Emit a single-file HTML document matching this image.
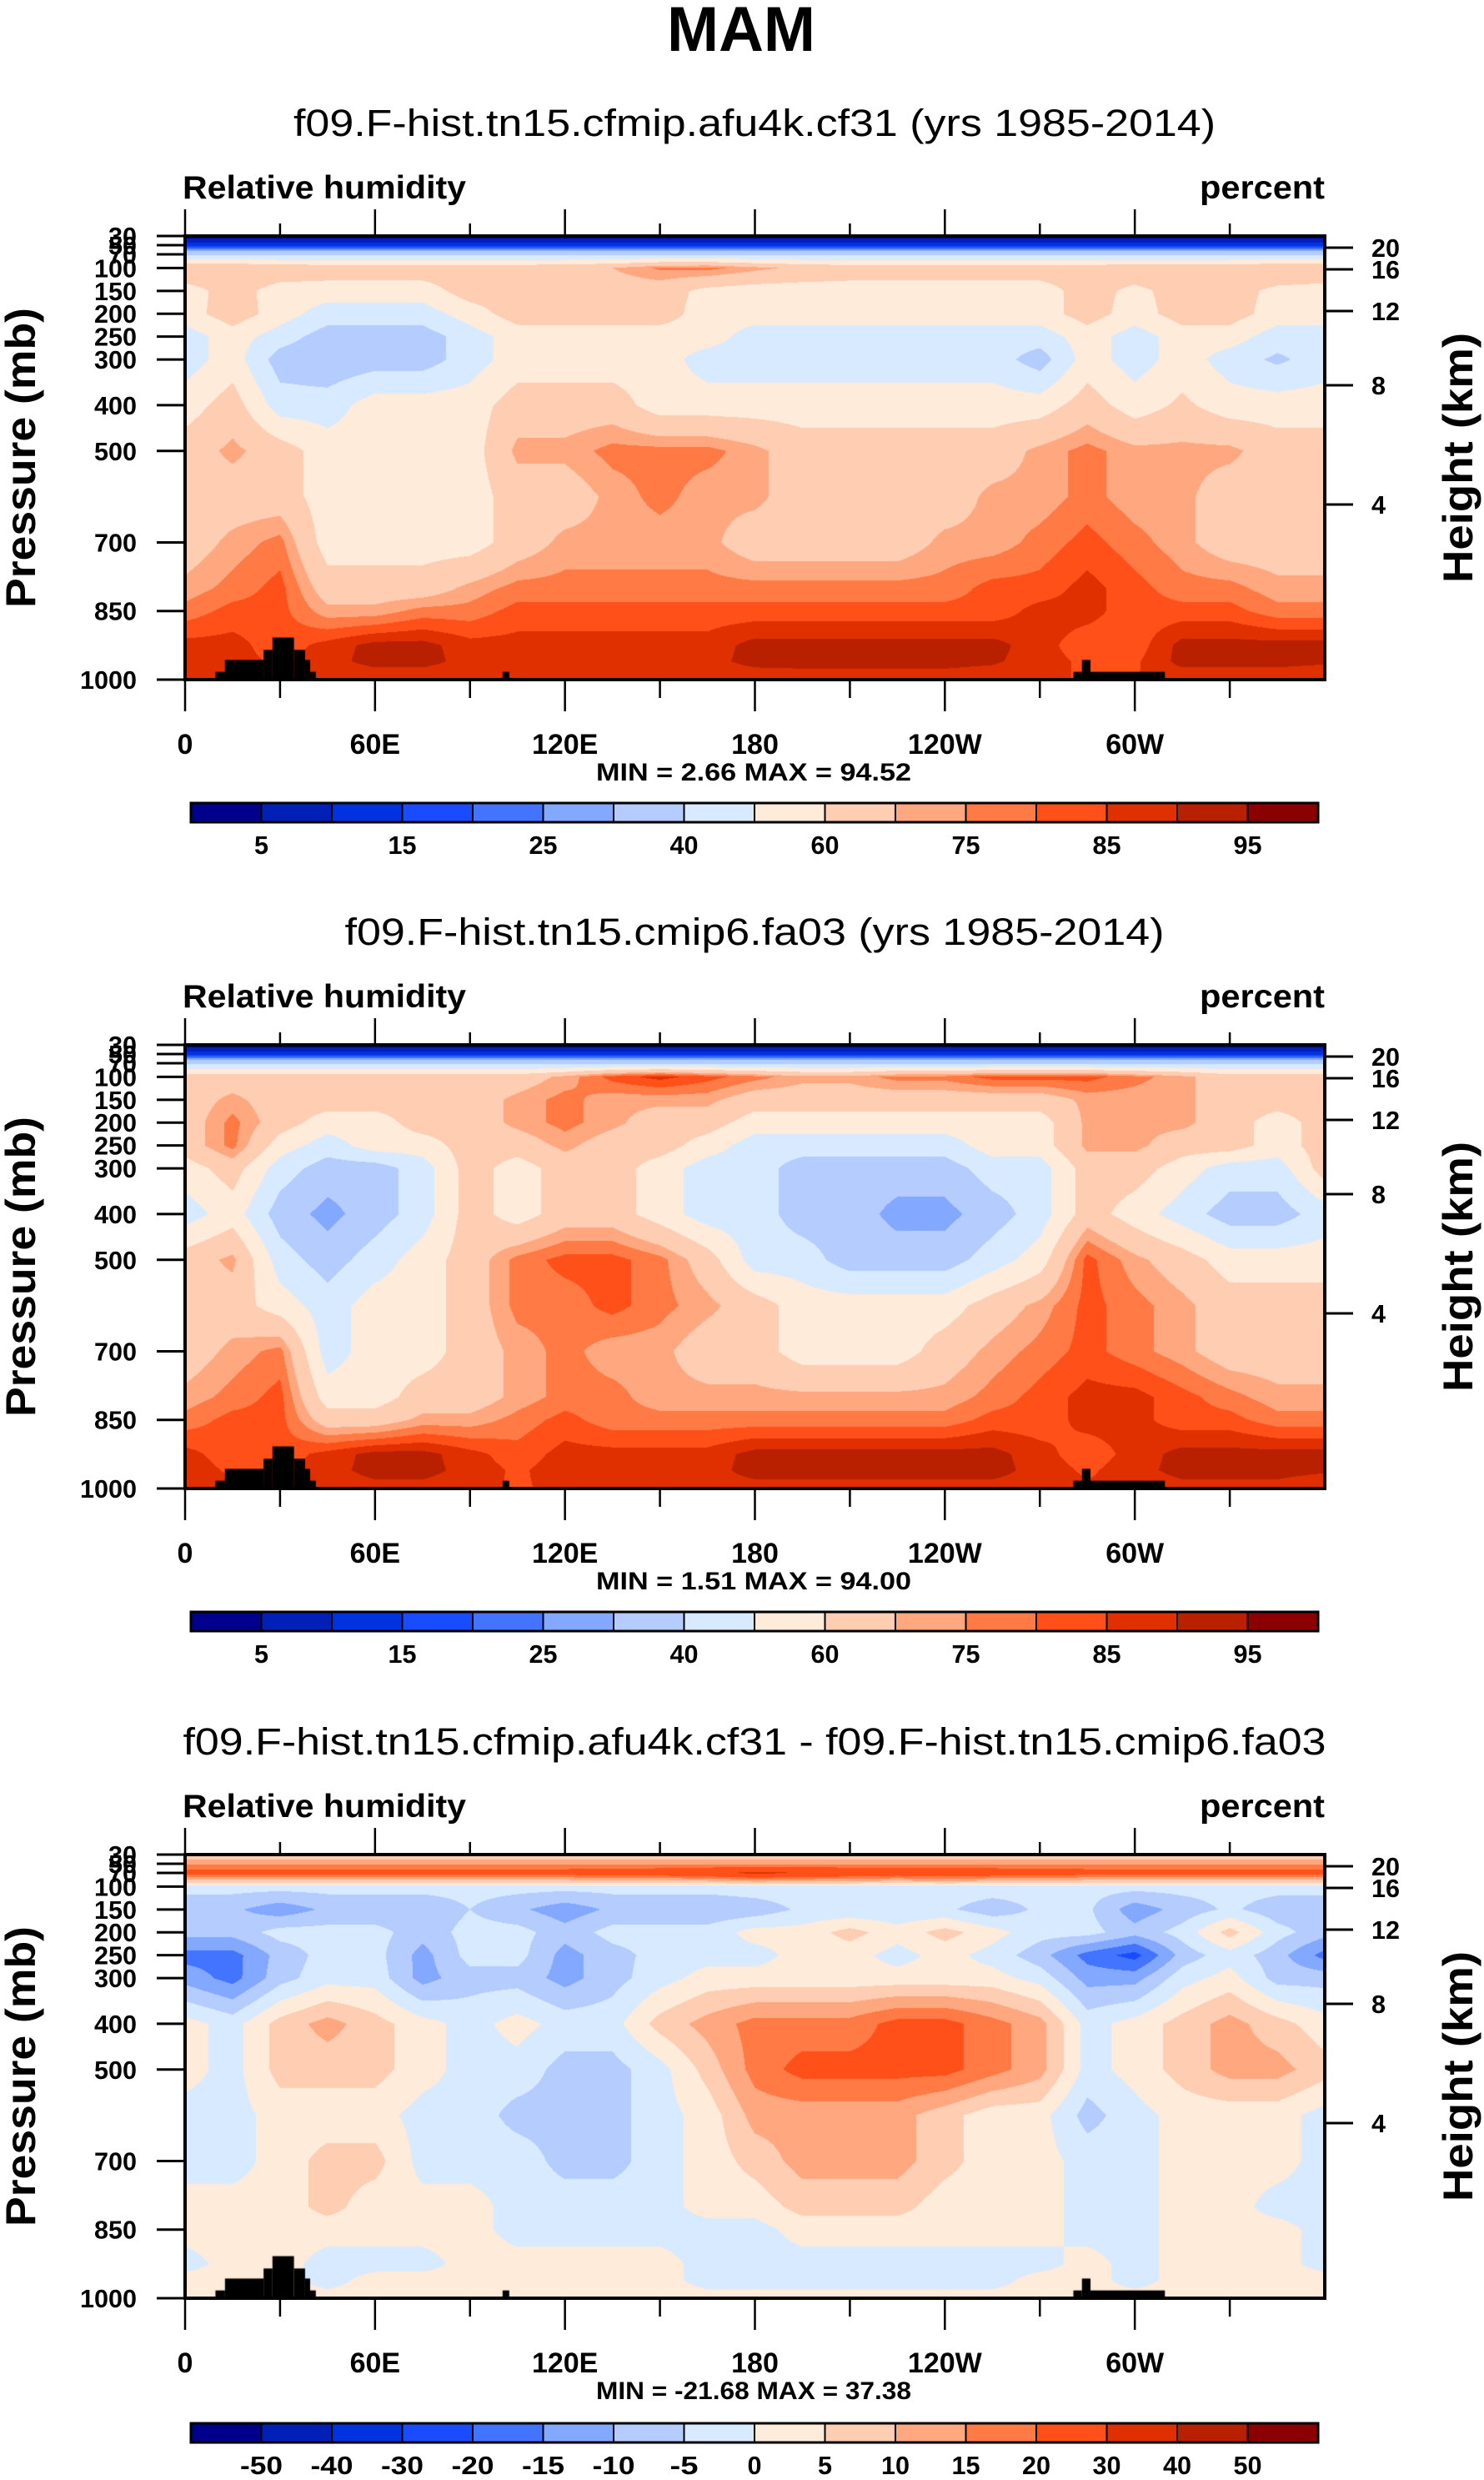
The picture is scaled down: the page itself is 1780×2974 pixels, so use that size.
<!DOCTYPE html>
<html>
<head>
<meta charset="utf-8">
<style>
html,body{margin:0;padding:0;background:#fff;}
#wrap{position:relative;width:1780px;height:2974px;overflow:hidden;background:#fff;}
canvas{position:absolute;left:222px;}
svg{position:absolute;left:0;top:0;}
text{font-family:"Liberation Sans",sans-serif;}
</style>
</head>
<body>
<div id="wrap">
<canvas id="c0" width="1367" height="532" style="top:283px"></canvas>
<canvas id="c1" width="1367" height="532" style="top:1253px"></canvas>
<canvas id="c2" width="1367" height="532" style="top:2224px"></canvas>
<svg id="svg" width="1780" height="2974" xmlns="http://www.w3.org/2000/svg"></svg>
</div>
<script>
// ---------- data ----------
const PLEV = [30,50,70,100,150,200,250,300,400,500,600,700,800,850,925,960,1000];
const LONS = [0,15,30,45,60,75,90,105,120,135,150,165,180,195,210,225,240,255,270,285,300,315,330,345,360];
const rhA = [
[2,2,2,2,2,2,2,2,2,2,2,2,2,2,2,2,2,2,2,2,2,2,2,2,2],
[13,13,13,13,13,13,13,13,13,13,13,13,13,13,13,13,13,13,13,13,13,13,13,13,13],
[38,38,38,38,38,38,38,38,38,38,38,38,38,38,38,38,38,38,38,38,38,38,38,38,38],
[70,70,68,66,66,66,66,66,68,70,76,77,72,68,66,66,66,66,66,66,68,68,68,70,70],
[55,65,55,55,55,55,65,65,65,65,65,57,55,55,55,55,55,55,55,65,57,65,65,57,55],
[55,66,55,45,45,45,55,65,65,65,65,55,55,55,55,55,55,55,55,65,55,65,65,55,55],
[45,55,45,35,35,35,45,55,55,55,55,55,45,45,45,45,45,45,45,55,45,55,55,45,45],
[45,55,35,32,35,35,45,55,55,55,55,45,45,45,45,45,45,45,35,55,45,55,45,38,45],
[55,65,45,45,55,55,55,65,65,65,55,55,55,55,55,55,55,55,55,65,55,62,55,55,55],
[65,72,65,55,55,55,55,72,72,77,77,77,72,65,65,65,65,65,72,77,72,72,72,65,65],
[65,65,65,55,55,55,55,65,65,72,77,72,72,65,65,65,65,72,72,77,72,72,65,65,65],
[65,72,77,55,55,55,55,65,72,72,72,72,65,65,65,65,72,72,77,82,77,72,65,65,65],
[72,77,82,65,65,65,72,77,77,77,77,77,77,77,77,77,77,82,82,87,82,77,77,72,72],
[77,82,82,72,72,77,77,82,82,82,82,82,82,82,82,82,82,82,87,87,82,82,82,77,77],
[87,87,82,87,92,92,87,87,87,87,87,87,92,92,92,92,92,92,87,82,82,92,92,92,92],
[87,87,84,88,92,92,88,87,88,88,88,88,92,92,92,92,92,91,87,84,84,92,92,92,91],
[85,85,85,85,86,86,86,85,86,86,86,86,86,87,87,87,87,86,85,85,85,86,86,86,85]
];
const rhB = [
[2,2,2,2,2,2,2,2,2,2,2,2,2,2,2,2,2,2,2,2,2,2,2,2,2],
[13,13,13,13,13,13,13,13,13,13,13,13,13,13,13,13,13,13,13,13,13,13,13,13,13],
[38,38,38,38,38,38,38,38,38,38,38,38,38,38,38,38,38,38,38,38,38,38,38,38,38],
[65,65,65,65,65,65,65,65,72,82,87,82,77,72,72,77,77,82,82,82,77,72,65,65,65],
[65,72,65,65,65,65,65,72,77,72,72,72,65,65,65,65,65,65,65,72,72,72,65,65,65],
[65,77,65,55,55,65,65,72,77,72,65,65,55,55,55,55,55,55,55,72,72,72,65,55,65],
[65,77,55,45,55,55,65,65,72,65,65,55,45,45,45,45,45,55,55,72,72,65,65,55,65],
[55,65,45,35,35,45,65,55,65,65,55,45,45,35,35,35,35,45,45,65,65,55,45,45,65],
[45,55,35,27,35,45,65,55,65,65,55,45,45,35,35,27,27,35,45,65,55,45,35,35,45],
[65,72,45,35,45,55,65,77,82,82,77,65,45,45,35,35,35,45,55,82,72,65,55,55,55],
[65,65,55,45,55,55,65,77,77,82,77,72,65,55,55,55,55,65,72,82,77,72,65,65,65],
[65,72,77,45,55,55,65,72,77,72,72,65,65,55,55,55,65,72,77,82,77,72,65,65,65],
[72,77,82,55,55,65,65,72,77,77,72,72,72,72,72,72,72,77,82,87,87,82,77,72,72],
[77,82,82,65,65,72,72,77,82,77,77,77,77,77,77,77,77,82,82,87,87,82,82,77,77],
[87,82,82,87,92,92,87,82,87,87,87,87,92,92,92,92,92,92,87,82,87,92,92,92,92],
[88,84,84,88,92,92,88,84,88,88,88,88,92,92,92,92,92,92,88,84,88,92,92,92,91],
[85,87,85,87,88,88,87,84,87,88,88,88,88,88,88,88,88,88,88,86,86,88,88,88,85]
];
const rhDiff = [
[5,5,5,5,5,5,5,5,5,5,5,5,5,5,5,5,5,5,5,5,5,5,5,5,5],
[14,14,14,14,14,14,14,14,14,14,14,14,14,14,14,14,14,14,14,14,14,14,14,14,14],
[24,24,24,24,24,24,24,24,24,25,26,28,32,30,28,26,28,26,25,24,24,24,24,24,24],
[-3,-3,-3,-3,-3,-3,-3,-3,-3,-3,-3,-3,-2,-2,-2,-2,-2,-2,-3,-3,-3,-3,-3,-3,-3],
[-9,-9,-13,-9,-9,-9,-5,-9,-13,-9,-9,-9,-8,-4,-4,-4,-4,-8,-4,-4,-13,-8,-4,-8,-8],
[-8,-8,-3,-3,-3,-8,-3,-3,-8,-3,-3,-3,2,2,7,2,7,2,-3,-3,-8,-3,7,-3,-8],
[-17,-17,-8,-3,-3,-12,-3,-3,-12,-7,-3,-2,-2,2,2,-2,2,-2,-8,-17,-22,-8,-2,-8,-17],
[-12,-17,-7,-2,-2,-12,-7,-7,-12,-7,-2,2,2,2,2,2,2,2,-2,-12,-12,-2,2,-7,-7],
[2,-2,7,12,7,2,-2,2,-2,-2,7,12,17,17,17,22,22,17,12,-2,2,7,12,7,2],
[2,-2,7,7,7,2,-2,-2,-7,-7,-2,7,17,22,22,22,22,17,12,-2,2,7,12,12,7],
[-2,-2,2,2,2,-2,-2,-7,-7,-7,-2,2,12,12,12,12,7,2,2,-7,-2,2,2,2,-2],
[-2,-2,2,7,7,-2,-2,-2,-7,-7,-2,2,7,12,12,12,7,2,2,-2,-2,2,2,2,-2],
[2,2,2,7,2,2,2,-2,-2,-2,-2,2,2,7,7,7,2,2,2,-2,-2,2,2,-2,-2],
[2,2,2,2,2,2,2,-2,-2,-2,-2,-2,-2,2,2,2,2,2,2,-2,-2,2,2,2,-2],
[-2,2,2,-2,-2,-2,2,2,2,2,2,-2,-2,-2,-2,-2,-2,-2,-2,2,-2,2,2,2,-2],
[2,2,2,-2,2,2,2,2,2,2,2,-2,-2,-2,-2,-2,-2,-2,2,2,-2,2,2,2,2],
[2,2,2,2,2,2,2,2,2,2,2,2,2,2,2,2,2,2,2,2,2,2,2,2,2]
];
const levelsRH = [5,10,15,20,25,30,40,50,60,70,75,80,85,90,95];
const levelsDiff = [-50,-40,-30,-20,-15,-10,-5,0,5,10,15,20,30,40,50];
const labelsRH = ["","5","","15","","25","","40","","60","","75","","85","","95",""];
const labelsDiff = ["","-50","-40","-30","-20","-15","-10","-5","0","5","10","15","20","30","40","50",""];
const COLORS = ["#00008c","#0020b8","#0032e0","#1a4cff","#4274ff","#82a8ff","#b4ccff","#d8eaff","#ffebda","#ffcdb2","#ffa880","#ff7a45","#ff5019","#e03000","#b82000","#8b0000"];
const TERRAIN_LON0 = [9.6,12.6,24.8,27.6,34.4,37.9,39.5,100.3,280.6,283.3,286];
const TERRAIN_LON1 = [12.6,24.8,27.6,34.4,37.9,39.5,41.3,102.4,283.3,286,309.5];
const TERRAIN_P = [983,957,935,908,935,957,983,983,983,957,983];
const PTICKS = [30,50,70,100,150,200,250,300,400,500,700,850,1000];
const HTICKS = ["20","16","12","8","4"];
const HTICK_Y = [14,40,90,179,322];
const XLAB = ["0","60E","120E","180","120W","60W"];
const XLAB_LON = [0,60,120,180,240,300];
const titles = ["f09.F-hist.tn15.cfmip.afu4k.cf31 (yrs 1985-2014)","f09.F-hist.tn15.cmip6.fa03 (yrs 1985-2014)","f09.F-hist.tn15.cfmip.afu4k.cf31 - f09.F-hist.tn15.cmip6.fa03"];
const titleW = [1106,983,1371];
const minmax = ["MIN =   2.66  MAX =  94.52","MIN =   1.51  MAX =  94.00","MIN = -21.68  MAX = 37.38"];

// ---------- geometry ----------
const PL=222, PW=1367, PH=532, PT=[283,1253,2224];
const xOf = lon => PL + lon/360*PW;
const yOf = (p,k) => PT[k] + (p-30)/970*PH;

function hexRGB(h){return [parseInt(h.substr(1,2),16),parseInt(h.substr(3,2),16),parseInt(h.substr(5,2),16)];}
const RGB = COLORS.map(hexRGB);

function sample(grid,lon,p){
  let j=Math.min(Math.floor(lon/15),23); let fx=(lon-LONS[j])/15;
  let i=0; while(i<PLEV.length-2 && p>PLEV[i+1]) i++;
  let fy=(p-PLEV[i])/(PLEV[i+1]-PLEV[i]);
  const a=grid[i][j],b=grid[i][j+1],c=grid[i+1][j],d=grid[i+1][j+1];
  return (a*(1-fx)+b*fx)*(1-fy)+(c*(1-fx)+d*fx)*fy;
}
function drawField(id,grid,levels){
  const cv=document.getElementById(id),ctx=cv.getContext('2d');
  const img=ctx.createImageData(PW,PH);
  for(let y=0;y<PH;y++){
    const p=30+(y+0.5)/PH*970;
    for(let x=0;x<PW;x++){
      const lon=(x+0.5)/PW*360;
      const v=sample(grid,lon,p);
      let c=0; while(c<levels.length && v>=levels[c]) c++;
      const o=(y*PW+x)*4, col=RGB[c];
      img.data[o]=col[0];img.data[o+1]=col[1];img.data[o+2]=col[2];img.data[o+3]=255;
    }
  }
  ctx.putImageData(img,0,0);
  ctx.fillStyle="#000";
  for(let t=0;t<TERRAIN_P.length;t++){
    const x0=TERRAIN_LON0[t]/360*PW,x1=TERRAIN_LON1[t]/360*PW;
    const y0=(TERRAIN_P[t]-30)/970*PH;
    ctx.fillRect(x0,y0,x1-x0,PH-y0);
  }
}
drawField('c0',rhA,levelsRH);
drawField('c1',rhB,levelsRH);
drawField('c2',rhDiff,levelsDiff);

// ---------- svg overlay ----------
const NS="http://www.w3.org/2000/svg", svg=document.getElementById('svg');
function el(tag,attrs,parent){const e=document.createElementNS(NS,tag);for(const k in attrs)e.setAttribute(k,attrs[k]);(parent||svg).appendChild(e);return e;}
function txt(s,attrs,parent){const e=el('text',attrs,parent);e.textContent=s;return e;}

const mt=txt("MAM",{x:889,y:61,"font-size":76,"font-weight":"bold","text-anchor":"middle",textLength:178,lengthAdjust:"spacingAndGlyphs"});



const OFF=[0,970,1941];
for(let k=0;k<3;k++){
  const g=el('g',{});
  
  
  const o=OFF[k], top=PT[k], bot=top+PH;
  const st=txt(titles[k],{x:905,y:163+o,"font-size":45,"text-anchor":"middle",textLength:titleW[k],lengthAdjust:"spacingAndGlyphs"},g);
  
  
  const lt=txt("Relative humidity",{x:219,y:238+o,"font-size":39,"font-weight":"bold",textLength:340,lengthAdjust:"spacingAndGlyphs"},g);
  
  
  const ut=txt("percent",{x:1589,y:238+o,"font-size":39,"font-weight":"bold","text-anchor":"end",textLength:150,lengthAdjust:"spacingAndGlyphs"},g);
  
  
  const fr=el('rect',{x:PL,y:top,width:PW,height:PH,fill:"none",stroke:"#000","stroke-width":4},g);
  
  
  for(let lon=0;lon<=330;lon+=30){
    const x=xOf(lon), major=lon%60===0;
    el('line',{x1:x,x2:x,y1:top,y2:top-(major?32:15),stroke:"#000","stroke-width":2.5},g);
    el('line',{x1:x,x2:x,y1:bot,y2:bot+(major?38:22),stroke:"#000","stroke-width":2.5},g);
  }
  for(let i=0;i<XLAB.length;i++){
    const t=txt(XLAB[i],{x:xOf(XLAB_LON[i]),y:904+o,"font-size":34,"font-weight":"bold","text-anchor":"middle"},g);
    
    
  }
  for(let i=0;i<PTICKS.length;i++){
    const y=yOf(PTICKS[i],k);
    el('line',{x1:PL-34,x2:PL,y1:y,y2:y,stroke:"#000","stroke-width":3},g);
    const t=txt(String(PTICKS[i]),{x:164,y:y+11,"font-size":31,"font-weight":"bold","text-anchor":"end",textLength:String(PTICKS[i]).length*17,lengthAdjust:"spacingAndGlyphs"},g);
    
    
  }
  for(let i=0;i<HTICKS.length;i++){
    const y=top+HTICK_Y[i];
    el('line',{x1:PL+PW,x2:PL+PW+34,y1:y,y2:y,stroke:"#000","stroke-width":3},g);
    const t=txt(HTICKS[i],{x:1645,y:y+11,"font-size":31,"font-weight":"bold",textLength:HTICKS[i].length*17,lengthAdjust:"spacingAndGlyphs"},g);
    
    
  }
  const yc=top+PH/2;
  const ya=txt("Pressure (mb)",{x:0,y:0,"font-size":50,"font-weight":"bold","text-anchor":"middle",textLength:360,lengthAdjust:"spacingAndGlyphs",transform:`translate(42,${yc}) rotate(-90)`},g);
  
  
  const ha=txt("Height (km)",{x:0,y:0,"font-size":50,"font-weight":"bold","text-anchor":"middle",textLength:300,lengthAdjust:"spacingAndGlyphs",transform:`translate(1766,${yc}) rotate(-90)`},g);
  
  
  const mm=txt(minmax[k],{x:904,y:936+o,"font-size":30,"font-weight":"bold","text-anchor":"middle",textLength:378,lengthAdjust:"spacingAndGlyphs","xml:space":"preserve"},g);
  
  
  const cb=el('g',{},g);
  
  
  const cbx0=229,cbx1=1581,cby=963+(k===2?1943:o),cbh=23,bw=(cbx1-cbx0)/16;
  for(let c=0;c<16;c++){
    const r=el('rect',{x:cbx0+c*bw,y:cby,width:bw,height:cbh,fill:COLORS[c],stroke:"#000","stroke-width":2},cb);
    
    
  }
  el('rect',{x:cbx0,y:cby,width:cbx1-cbx0,height:cbh,fill:"none",stroke:"#000","stroke-width":3},cb);
  const labs=k===2?labelsDiff:labelsRH;
  for(let c=1;c<16;c++){
    if(!labs[c])continue;
    const t=txt(labs[c],{x:cbx0+c*bw,y:cby+61,"font-size":31,"font-weight":"bold","text-anchor":"middle",textLength:labs[c].length*17,lengthAdjust:"spacingAndGlyphs"},cb);
    
    
  }
}
</script>
</body>
</html>
